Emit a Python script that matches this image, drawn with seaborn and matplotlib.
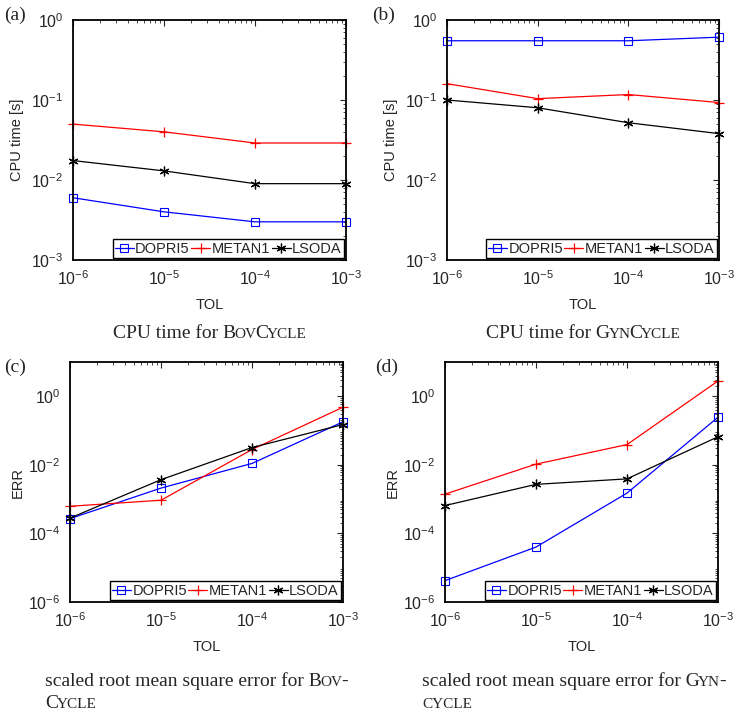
import numpy as np
import pandas as pd
import matplotlib
matplotlib.use("Agg")
import matplotlib.pyplot as plt
import matplotlib.ticker as mticker
import seaborn as sns

# data
tol = [1e-6, 1e-5, 1e-4, 1e-3]
solvers = ["DOPRI5", "METAN1", "LSODA"]

# (a) CPU time, BovCycle
cpu_bov_dopri5 = [6.0e-3, 4.0e-3, 3.0e-3, 3.0e-3]
cpu_bov_metan1 = [5.0e-2, 4.0e-2, 2.9e-2, 2.9e-2]
cpu_bov_lsoda = [1.75e-2, 1.3e-2, 9.0e-3, 9.0e-3]
# (b) CPU time, GynCycle
cpu_gyn_dopri5 = [0.55, 0.55, 0.55, 0.61]
cpu_gyn_metan1 = [0.16, 0.104, 0.117, 0.093]
cpu_gyn_lsoda = [0.10, 0.080, 0.052, 0.038]
# (c) ERR, BovCycle
err_bov_dopri5 = [2.7e-4, 2.1e-3, 1.1e-2, 0.18]
err_bov_metan1 = [6.2e-4, 9.3e-4, 2.8e-2, 0.48]
err_bov_lsoda = [2.8e-4, 3.7e-3, 3.2e-2, 0.15]
# (d) ERR, GynCycle
err_gyn_dopri5 = [4.2e-6, 4.0e-5, 1.5e-3, 0.245]
err_gyn_metan1 = [1.4e-3, 1.05e-2, 3.9e-2, 2.8]
err_gyn_lsoda = [6.5e-4, 2.7e-3, 3.9e-3, 6.6e-2]

sns.set_style("white")
plt.rcParams["font.family"] = ["Liberation Sans", "DejaVu Sans"]
plt.rcParams["mathtext.fontset"] = "custom"
plt.rcParams["mathtext.rm"] = "Liberation Sans"
plt.rcParams["mathtext.it"] = "Liberation Sans"
plt.rcParams["mathtext.default"] = "regular"

W, H = 741, 713
fig = plt.figure(figsize=(W / 100, H / 100), dpi=100)
fig.patch.set_facecolor("white")

styles = {
    "DOPRI5": dict(color="#0000ff", marker="s", ms=6, mfc="none", mec="#0000ff", mew=0.8),
    "METAN1": dict(color="#ff0000", marker="+", ms=7.5, mec="#ff0000", mew=0.9),
    "LSODA": dict(color="black", marker=(6, 2, 0), ms=7, mec="black", mew=0.9),
}


def px_axes(left, right, top, bottom):
    return fig.add_axes([left / W, 1 - bottom / H, (right - left) / W, (bottom - top) / H])


def panel(ax, series, ylim, ylabel, yticks, ypad):
    df = pd.DataFrame({"TOL": tol * 3,
                       "val": sum(series, []),
                       "solver": np.repeat(solvers, 4)})
    for s in solvers:
        sub = df[df.solver == s]
        sns.lineplot(data=sub, x="TOL", y="val", ax=ax, label=s, lw=0.9, clip_on=False,
                     zorder=3, **styles[s])
    ax.set_xscale("log")
    ax.set_yscale("log")
    ax.set_xlim(1e-6, 1e-3)
    ax.set_ylim(*ylim)
    ax.set_xticks(tol)
    ax.set_yticks(yticks)
    ax.xaxis.set_minor_locator(mticker.LogLocator(base=10, subs=np.arange(2, 10)))
    ax.yaxis.set_minor_locator(mticker.LogLocator(base=10, subs=np.arange(2, 10), numticks=20))
    ax.xaxis.set_minor_formatter(mticker.NullFormatter())
    ax.yaxis.set_minor_formatter(mticker.NullFormatter())
    ax.tick_params(which="both", direction="in", top=True, right=True, labelsize=11.5, pad=7)
    ax.tick_params(which="major", length=4, width=0.8)
    ax.tick_params(which="minor", length=2, width=0.6)
    for sp in ax.spines.values():
        sp.set_visible(True)
        sp.set_color("black")
        sp.set_linewidth(1.3)
        sp.set_zorder(4)
    ax.set_xlabel("TOL", fontsize=10.5, labelpad=7)
    ax.set_ylabel(ylabel, fontsize=10.5, labelpad=ypad)
    leg = ax.legend(loc="lower right", ncol=3, fontsize=10.5, frameon=True, fancybox=False,
                    edgecolor="black", handlelength=1.3, handletextpad=0.1, columnspacing=0.1,
                    borderpad=0.15, borderaxespad=0.15, framealpha=1)
    leg.get_frame().set_linewidth(1.0)
    leg.set_zorder(5)


ax_a = px_axes(73, 346, 20, 260)
panel(ax_a, [cpu_bov_dopri5, cpu_bov_metan1, cpu_bov_lsoda], (1e-3, 1e0), "CPU time [s]",
      [1e-3, 1e-2, 1e-1, 1e0], 5)
ax_b = px_axes(447, 719, 20, 260)
panel(ax_b, [cpu_gyn_dopri5, cpu_gyn_metan1, cpu_gyn_lsoda], (1e-3, 1e0), "CPU time [s]",
      [1e-3, 1e-2, 1e-1, 1e0], 5)
ax_c = px_axes(70, 343, 362, 602)
panel(ax_c, [err_bov_dopri5, err_bov_metan1, err_bov_lsoda], (1e-6, 1e1), "ERR",
      [1e-6, 1e-4, 1e-2, 1e0], 2)
ax_d = px_axes(445, 718, 362, 602)
panel(ax_d, [err_gyn_dopri5, err_gyn_metan1, err_gyn_lsoda], (1e-6, 1e1), "ERR",
      [1e-6, 1e-4, 1e-2, 1e0], 2)

# panel letters
serif = ["Liberation Serif", "DejaVu Serif"]
for lbl, x, y in [("(a)", 4, 15), ("(b)", 372, 15), ("(c)", 4, 367), ("(d)", 375, 367)]:
    fig.text(x / W, 1 - y / H, lbl, family=serif, fontsize=14, va="center", ha="left")

# captions with small caps
renderer = fig.canvas.get_renderer()
BIG, SMALL = 14, 11


def caption(x, y, pieces, center=False):
    texts = []
    for s, big in pieces:
        texts.append(fig.text(0, 1 - y / H, s, family=serif, fontsize=BIG if big else SMALL,
                              va="baseline", ha="left"))
    widths = [t.get_window_extent(renderer).width - 1.5 for t in texts]
    start = x - sum(widths) / 2 if center else x
    for t, w in zip(texts, widths):
        t.set_x(start / W)
        start += w


caption(209, 338, [("CPU time for B", True), ("OV", False), ("C", True), ("YCLE", False)], center=True)
caption(583, 338, [("CPU time for G", True), ("YN", False), ("C", True), ("YCLE", False)], center=True)
caption(45, 686, [("scaled root mean square error for B", True), ("OV", False), ("-", True)])
caption(45, 708, [("C", True), ("YCLE", False)])
caption(422, 686, [("scaled root mean square error for G", True), ("YN", False), ("-", True)])
caption(422, 708, [("CYCLE", False)])

fig.savefig("out.png", dpi=100)
